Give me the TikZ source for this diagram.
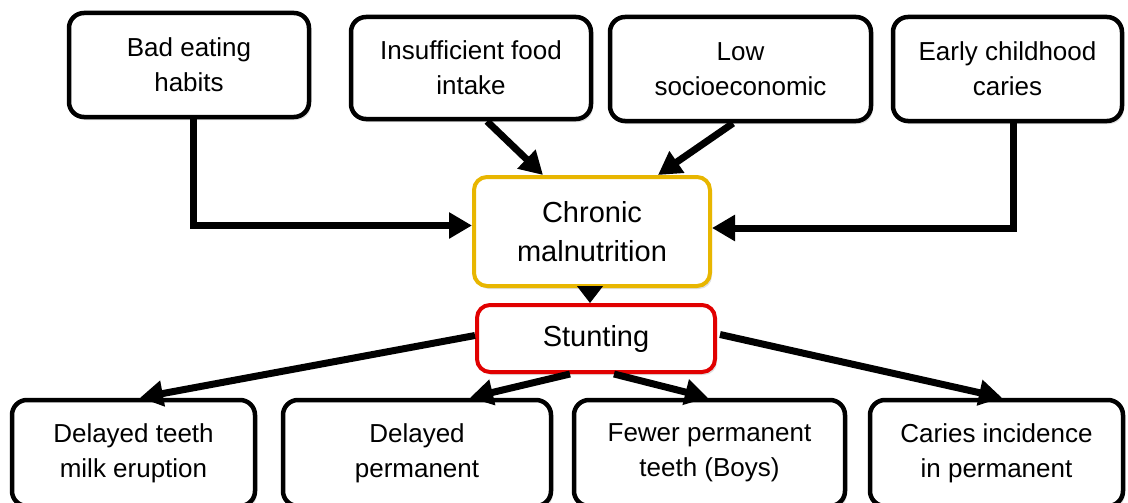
\documentclass[tikz,border=0pt]{standalone}
\usepackage{fontspec}
\setmainfont{Liberation Sans}
\usetikzlibrary{arrows.meta,calc,shadows}
\definecolor{goldb}{RGB}{232,182,0}
\definecolor{redb}{RGB}{225,0,0}
\tikzset{
  box/.style={draw=black, line width=4.5pt, rounded corners=15pt, fill=white,
    align=center, inner sep=0pt, font=\fontsize{26}{35}\selectfont,
    drop shadow={opacity=0.25, shadow xshift=2pt, shadow yshift=-3pt}},
  mid/.style={box, line width=4pt, rounded corners=13pt, font=\fontsize{29}{39}\selectfont},
  arr/.style={line width=7pt, -{Triangle[length=23pt,width=25pt]}},
}
\begin{document}
\begin{tikzpicture}[x=1pt,y=-1pt]
\useasboundingbox (0,0) rectangle (1128,503);
% top row
\node[box, minimum width=240pt, minimum height=104pt] (bad) at (189,65) {Bad eating\\habits};
\node[box, minimum width=240pt, minimum height=102pt] (ins) at (471,68) {Insufficient food\\intake};
\node[box, minimum width=261pt, minimum height=104pt] (low) at (740.5,69) {Low\\socioeconomic};
\node[box, minimum width=229pt, minimum height=104pt] (early) at (1007.5,69) {Early childhood\\caries};
% middle
\node[mid, draw=goldb, minimum width=236pt, minimum height=109pt] (chron) at (592,231.5) {Chronic\\malnutrition};
\node[mid, draw=redb, minimum width=238pt, minimum height=67pt] (stunt) at (596,338.5) {Stunting};
% bottom row
\node[box, minimum width=243pt, minimum height=106pt] (dt) at (133.5,453) {Delayed teeth\\milk eruption};
\node[box, minimum width=268pt, minimum height=106pt] (dp) at (417,453) {Delayed\\permanent};
\node[box, minimum width=271pt, minimum height=106pt] (fp) at (709.5,453) {Fewer permanent\\teeth (Boys)};
\node[box, minimum width=253pt, minimum height=106pt] (ci) at (996.5,453) {Caries incidence\\in permanent};
% connectors
\draw[arr] ($(bad.south)+(4,0)$) |- ($(chron.west)+(0,-6)$);
\draw[arr] ($(ins.south)+(16,0)$) -- ($(chron.north)+(-49,0)$);
\draw[arr] ($(low.south)+(-7.5,0)$) -- ($(chron.north)+(66,0)$);
\draw[arr] ($(early.south)+(5.5,0)$) |- ($(chron.east)+(0,-3.5)$);
\draw[line width=1pt, -{Triangle[length=17pt,width=26pt]}] ($(chron.south)+(-2,0)$) -- ($(stunt.north)+(-6,0)$);
\draw[arr] ($(stunt.west)+(0,-3)$) -- ($(dt.north)+(6.5,0)$);
\draw[arr] ($(stunt.south)+(-26,0)$) -- ($(dp.north)+(53,0)$);
\draw[arr] ($(stunt.south)+(18,0)$) -- ($(fp.north)+(-1.5,0)$);
\draw[arr] ($(stunt.east)+(3,-4)$) -- ($(ci.north)+(5.5,0)$);
\end{tikzpicture}
\end{document}
